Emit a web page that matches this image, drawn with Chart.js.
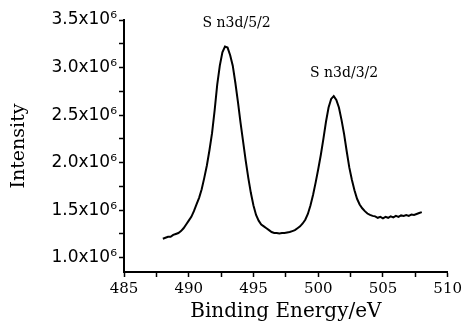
<!DOCTYPE html>
<html>
<head>
<meta charset="utf-8">
<script src="https://cdn.jsdelivr.net/npm/chart.js@4"></script>
<style>
    html, body { margin: 0; padding: 0; background: #fff; }
    #wrap { width: 465px; height: 326px; }
</style>
</head>
<body>
<div id="wrap"><canvas id="xps-chart"></canvas></div>
<script>
/**
 * Sn 3d XPS spectrum
 */

// Binding energy (eV)
const energy = [
    488.0, 488.2, 488.4, 488.6, 488.8, 489.0, 489.2, 489.4, 489.6, 489.8,
    490.0, 490.2, 490.4, 490.6, 490.8, 491.0, 491.2, 491.4, 491.6, 491.8,
    492.0, 492.2, 492.4, 492.6, 492.8, 493.0, 493.2, 493.4, 493.6, 493.8,
    494.0, 494.2, 494.4, 494.6, 494.8, 495.0, 495.2, 495.4, 495.6, 495.8,
    496.0, 496.2, 496.4, 496.6, 496.8, 497.0, 497.2, 497.4, 497.6, 497.8,
    498.0, 498.2, 498.4, 498.6, 498.8, 499.0, 499.2, 499.4, 499.6, 499.8,
    500.0, 500.2, 500.4, 500.6, 500.8, 501.0, 501.2, 501.4, 501.6, 501.8,
    502.0, 502.2, 502.4, 502.6, 502.8, 503.0, 503.2, 503.4, 503.6, 503.8,
    504.0, 504.2, 504.4, 504.6, 504.8, 505.0, 505.2, 505.4, 505.6, 505.8,
    506.0, 506.2, 506.4, 506.6, 506.8, 507.0, 507.2, 507.4, 507.6, 507.8,
    508.0
];

// Intensity (x10^6 counts)
const intensity = [
    1.20, 1.21, 1.22, 1.22, 1.24, 1.25, 1.26, 1.28, 1.31, 1.35,
    1.39, 1.43, 1.49, 1.56, 1.63, 1.72, 1.84, 1.97, 2.13, 2.31,
    2.55, 2.82, 3.02, 3.16, 3.22, 3.21, 3.13, 3.02, 2.84, 2.64,
    2.42, 2.22, 2.02, 1.84, 1.68, 1.55, 1.45, 1.39, 1.35, 1.33,
    1.31, 1.29, 1.27, 1.26, 1.26, 1.255, 1.26, 1.26, 1.265, 1.27,
    1.28, 1.29, 1.31, 1.33, 1.36, 1.40, 1.46, 1.55, 1.66, 1.79,
    1.93, 2.08, 2.25, 2.43, 2.58, 2.67, 2.70, 2.66, 2.58, 2.45,
    2.30, 2.12, 1.95, 1.82, 1.71, 1.62, 1.56, 1.52, 1.49, 1.465,
    1.45, 1.44, 1.435, 1.42, 1.43, 1.415, 1.43, 1.42, 1.435, 1.425,
    1.44, 1.43, 1.445, 1.44, 1.45, 1.44, 1.455, 1.45, 1.46, 1.47,
    1.48
];

// Tick positions (major ones get labels, the rest are minor marks)
const xTicks = [485, 487.5, 490, 492.5, 495, 497.5, 500, 502.5, 505, 507.5, 510];
const xTickLabels = ['485', '', '490', '', '495', '', '500', '', '505', '', '510'];
const yTicks = [1.0, 1.25, 1.5, 1.75, 2.0, 2.25, 2.5, 2.75, 3.0, 3.25, 3.5];
const yTickLabels = ['1.0x10\u2076', '', '1.5x10\u2076', '', '2.0x10\u2076', '',
    '2.5x10\u2076', '', '3.0x10\u2076', '', '3.5x10\u2076'];

// Peak labels and where they sit (data units)
const peakLabels = ['S n3d/5/2', 'S n3d/3/2'];
const peakLabelEnergy = [493.7, 502.0];
const peakLabelIntensity = [3.46, 2.94];

const points = energy.map((e, i) => ({ x: e, y: intensity[i] }));

/**
 * Draw the peak names above each peak
 */
const peakLabelPlugin = {
    id: 'peakLabels',
    afterDatasetsDraw: function(chart) {
        const ctx = chart.ctx;
        const xAxis = chart.scales.x;
        const yAxis = chart.scales.y;
        ctx.save();
        ctx.fillStyle = '#000';
        ctx.font = '14px "DejaVu Serif"';
        ctx.textAlign = 'center';
        ctx.textBaseline = 'middle';
        peakLabels.forEach((txt, i) => {
            ctx.fillText(txt,
                xAxis.getPixelForValue(peakLabelEnergy[i]),
                yAxis.getPixelForValue(peakLabelIntensity[i]));
        });
        ctx.restore();
    }
};

const ctx = document.getElementById('xps-chart').getContext('2d');

new Chart(ctx, {
    type: 'scatter',
    data: {
        datasets: [{
            data: points,
            showLine: true,
            borderColor: '#000',
            borderWidth: 2,
            pointRadius: 0,
            tension: 0
        }]
    },
    options: {
        responsive: true,
        maintainAspectRatio: false,
        animation: false,
        layout: {
            padding: { top: 20, right: 16, left: 0, bottom: 0 }
        },
        plugins: {
            legend: { display: false },
            tooltip: { enabled: false }
        },
        scales: {
            x: {
                type: 'linear',
                min: 485,
                max: 510,
                border: { display: true, color: '#000', width: 2 },
                grid: {
                    drawOnChartArea: false,
                    drawTicks: true,
                    tickLength: 5,
                    tickColor: '#000',
                    tickWidth: 1.5
                },
                afterBuildTicks: function(scale) {
                    scale.ticks = xTicks.map(v => ({ value: v }));
                },
                ticks: {
                    autoSkip: false,
                    maxRotation: 0,
                    color: '#000',
                    padding: 3,
                    font: { family: 'DejaVu Serif', size: 15 },
                    callback: (v, i) => xTickLabels[i]
                },
                title: {
                    display: true,
                    text: 'Binding Energy/eV',
                    color: '#000',
                    font: { family: 'DejaVu Serif', size: 20 },
                    padding: { top: 0, bottom: 2 }
                },
                afterFit: function(scale) { scale.height = 54; }
            },
            y: {
                min: 0.85,
                max: 3.5,
                border: { display: true, color: '#000', width: 2 },
                grid: {
                    drawOnChartArea: false,
                    drawTicks: true,
                    tickLength: 5,
                    tickColor: '#000',
                    tickWidth: 1.5
                },
                afterBuildTicks: function(scale) {
                    scale.ticks = yTicks.map(v => ({ value: v }));
                },
                ticks: {
                    autoSkip: false,
                    color: '#000',
                    padding: 2,
                    font: { family: 'DejaVu Sans', size: 17 },
                    callback: (v, i) => yTickLabels[i]
                },
                title: {
                    display: true,
                    text: 'Intensity',
                    color: '#000',
                    font: { family: 'DejaVu Serif', size: 19 },
                    padding: { top: 8, bottom: 0 }
                },
                afterFit: function(scale) { scale.width = 124; }
            }
        }
    },
    plugins: [peakLabelPlugin]
});
</script>
</body>
</html>
